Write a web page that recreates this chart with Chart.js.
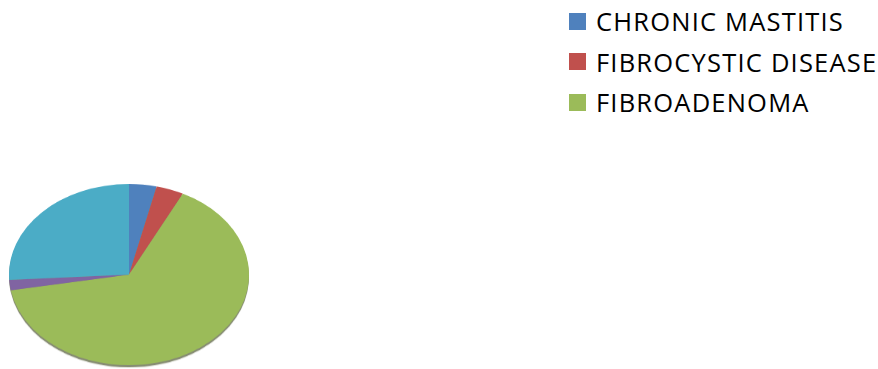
<!DOCTYPE html>
<html lang="en">
<head>
  <meta charset="UTF-8">
  <title>Breast Lesions</title>
  <script src="https://cdn.jsdelivr.net/npm/chart.js"></script>
  <style>
    body {
      margin: 0;
      width: 878px;
      height: 369px;
      background: #fff;
      position: relative;
      overflow: hidden;
      font-family: 'Open Sans', sans-serif;
    }
    .pie-wrap {
      position: absolute;
      left: 9px;
      top: 184px;
      width: 240px;
      height: 240px;
      transform: scaleY(0.755);
      transform-origin: top left;
      filter: drop-shadow(0 3px 0 rgba(70, 80, 40, 0.65));
    }
    .legend {
      position: absolute;
      left: 569px;
      top: 1px;
      margin: 0;
      padding: 0;
      list-style: none;
    }
    .legend li {
      height: 40.5px;
      display: flex;
      align-items: center;
      font-size: 25.5px;
      letter-spacing: 1.2px;
      color: #000;
      white-space: nowrap;
    }
    .legend span.box {
      width: 17px;
      height: 17px;
      margin-right: 10px;
      flex: none;
    }
  </style>
</head>
<body>
  <div class="pie-wrap"><canvas id="pie" width="240" height="240"></canvas></div>
  <ul class="legend" id="legend"></ul>

  <script>
    const categories = ['CHRONIC MASTITIS', 'FIBROCYSTIC DISEASE', 'FIBROADENOMA', 'OTHER', 'NORMAL'];
    const cases = [2, 2, 35, 1, 14];
    const sliceColors = ['#4f81bd', '#c0504d', '#9bbb59', '#8064a2', '#4bacc6'];
    const legendCount = 3;

    const chart = new Chart(document.getElementById('pie'), {
      type: 'pie',
      data: {
        labels: categories,
        datasets: [{
          data: cases,
          backgroundColor: sliceColors,
          borderWidth: 0
        }]
      },
      options: {
        responsive: false,
        animation: false,
        plugins: {
          legend: { display: false },
          tooltip: { enabled: false }
        }
      }
    });

    // legend built from the chart's own labels
    const items = chart.options.plugins.legend.labels.generateLabels(chart);
    const legend = document.getElementById('legend');
    items.slice(0, legendCount).forEach(item => {
      const li = document.createElement('li');
      li.innerHTML = `<span class="box" style="background:${item.fillStyle}"></span>${item.text}`;
      legend.appendChild(li);
    });
  </script>
</body>
</html>
